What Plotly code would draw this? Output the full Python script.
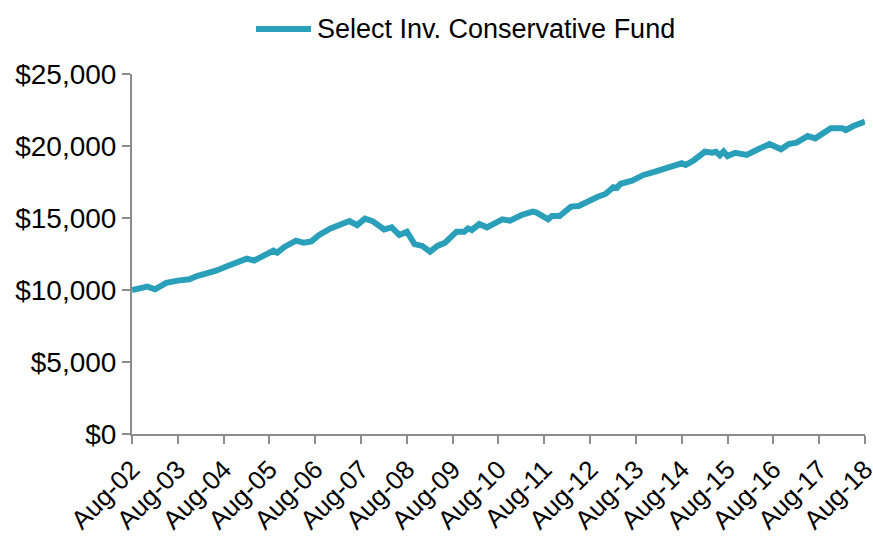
import plotly.graph_objects as go
import pandas as pd

# Month offsets from Aug-2002 and fund values ($)
month_offsets = [0, 2, 4, 6, 9, 12, 15, 17, 20, 22, 25, 28, 30, 32, 35, 37, 38, 40, 43, 45,
                 47, 49, 52, 54, 57, 59, 61, 63, 65, 66, 68, 70, 72, 73, 74, 76, 78, 80, 82, 85,
                 87, 88, 89, 91, 93, 95, 97, 99, 102, 105, 106, 109, 110, 112, 115, 117, 119, 122, 124, 126,
                 127, 128, 131, 134, 137, 141, 144, 145, 147, 150, 152, 153, 154, 155, 156, 158, 159, 161, 164, 167,
                 170, 172, 174, 177, 179, 181, 183, 186, 187, 189, 192]
values = [10000, 10160, 10230, 10050, 10500, 10650, 10740, 10970, 11160, 11340, 11670, 12040, 12180, 12040, 12500, 12730, 12590, 13010, 13430, 13280,
          13380, 13820, 14280, 14510, 14790, 14510, 14950, 14780, 14400, 14210, 14350, 13820, 14050, 13500, 13190, 13060, 12660, 13060, 13280, 14050,
          14050, 14280, 14170, 14580, 14350, 14630, 14910, 14810, 15210, 15440, 15370, 14910, 15140, 15140, 15790, 15830, 16130, 16480, 16670, 17130,
          17080, 17380, 17590, 17990, 18220, 18520, 18800, 18680, 18980, 19600, 19530, 19600, 19350, 19620, 19300, 19530, 19500, 19380, 19770, 20140,
          19770, 20140, 20230, 20690, 20530, 20830, 21230, 21230, 21110, 21390, 21690]
series_name = "Select Inv. Conservative Fund"
tick_years = list(range(2002, 2019))

start = pd.Timestamp("2002-08-01")
dates = [(start + pd.DateOffset(months=m)).strftime("%Y-%m-%d") for m in month_offsets]
tick_vals = [f"{y}-08-01" for y in tick_years]
tick_text = [pd.Timestamp(t).strftime("%b-%y") for t in tick_vals]

FONT = "Liberation Sans, Arial, sans-serif"
AXIS_COLOR = "#8c8c8c"
LINE_COLOR = "#2A9FB9"

fig = go.Figure()
fig.add_trace(go.Scatter(
    x=dates, y=values, mode="lines", name=series_name,
    line=dict(color=LINE_COLOR, width=6), showlegend=False,
))

# Legend drawn as a line sample plus a text label above the plot
fig.add_shape(type="line", xref="paper", yref="paper",
              x0=0.1692, x1=0.2442, y0=1.125, y1=1.125,
              line=dict(color=LINE_COLOR, width=6))
fig.add_annotation(xref="paper", yref="paper", x=0.2497, y=1.125,
                   xanchor="left", yanchor="middle", showarrow=False,
                   text=series_name, font=dict(size=27))

fig.update_layout(
    width=873, height=536,
    margin=dict(l=132, r=8, t=74, b=102, autoexpand=False),
    paper_bgcolor="white", plot_bgcolor="white",
    font=dict(family=FONT, size=27, color="#000000"),
    showlegend=False,
    xaxis=dict(
        type="date",
        range=["2002-08-01", "2018-08-01 06:00"],
        tickmode="array", tickvals=tick_vals, ticktext=tick_text,
        tickangle=-45, ticks="outside", ticklen=8, tickwidth=2, tickcolor=AXIS_COLOR,
        showline=True, linecolor=AXIS_COLOR, linewidth=2,
        showgrid=False, zeroline=False, automargin=False,
        ticklabeloverflow="allow",
        tickfont=dict(size=26),
    ),
    yaxis=dict(
        range=[0, 25000], tickvals=[0, 5000, 10000, 15000, 20000, 25000],
        ticktext=["$0", "$5,000", "$10,000", "$15,000", "$20,000", "$25,000"],
        ticks="outside", ticklen=8, tickwidth=2, tickcolor=AXIS_COLOR,
        showline=True, linecolor=AXIS_COLOR, linewidth=2,
        showgrid=False, zeroline=False, automargin=False,
        tickfont=dict(size=28),
    ),
)

fig.write_html("out.html")
